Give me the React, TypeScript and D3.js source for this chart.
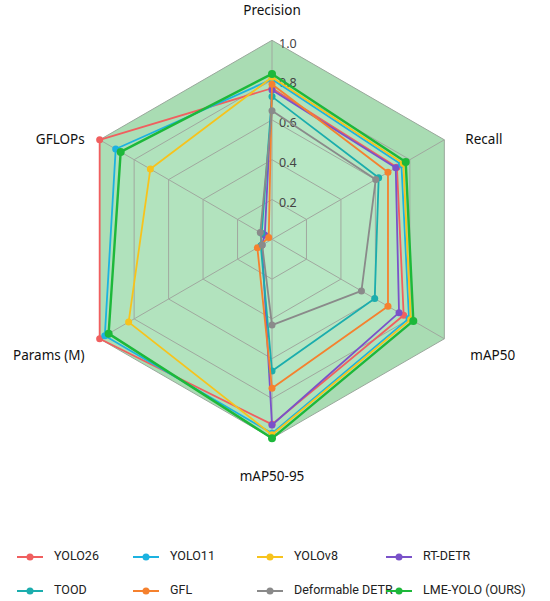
import React from 'react';
import * as d3 from 'd3';

const axes = ['Precision', 'Recall', 'mAP50', 'mAP50-95', 'Params (M)', 'GFLOPs'];
const ticks = [0.2, 0.4, 0.6, 0.8, 1.0];

const models = ['YOLO26', 'YOLO11', 'YOLOv8', 'RT-DETR', 'TOOD', 'GFL', 'Deformable DETR', 'LME-YOLO (OURS)'];
const colors = ['#f05f5f', '#1cb2e0', '#f7c31c', '#7a52c9', '#1badad', '#f5812e', '#8a8a8a', '#1db83a'];

const yolo26 = [0.759, 0.725, 0.764, 0.93, 1.0, 1.0];
const yolo11 = [0.804, 0.751, 0.795, 0.975, 0.97, 0.907];
const yolov8 = [0.814, 0.762, 0.805, 0.982, 0.832, 0.706];
const rtdetr = [0.75, 0.718, 0.737, 0.933, 0.058, 0.042];
const tood = [0.717, 0.619, 0.596, 0.662, 0.065, 0.06];
const gfl = [0.779, 0.673, 0.673, 0.749, 0.085, 0.019];
const deformable = [0.646, 0.602, 0.519, 0.431, 0.057, 0.068];
const lmeyolo = [0.831, 0.776, 0.82, 1.0, 0.948, 0.878];

const series = [yolo26, yolo11, yolov8, rtdetr, tood, gfl, deformable, lmeyolo];

const font = '"Noto Sans", "DejaVu Sans", sans-serif';
const legendFont = 'Roboto, "Noto Sans", sans-serif';

export default function App() {
  const width = 550;
  const height = 601;
  const cx = 272;
  const cy = 239.3;
  const R = 199;

  const r = d3.scaleLinear().domain([0, 1]).range([0, R]);
  const angle = d3.scaleLinear().domain([0, axes.length]).range([0, 2 * Math.PI]);

  const pt = (i: number, v: number): [number, number] => {
    const a = angle(i);
    return [cx + r(v) * Math.sin(a), cy - r(v) * Math.cos(a)];
  };

  const radarLine = d3
    .lineRadial<number>()
    .angle((_, i) => angle(i))
    .radius(v => r(v))
    .curve(d3.curveLinearClosed);

  const hex = (v: number) => radarLine(axes.map(() => v)) as string;

  return (
    <svg width={width} height={height} style={{ position: 'absolute', left: 0, top: 0 }}>
      <rect width={width} height={height} fill="#fff" />
      <g transform={`translate(${cx},${cy})`}>
        <path d={hex(1)} fill="#a9dcb3" stroke="#9aa89c" strokeWidth={1} />
        {series.map((s, k) => (
          <path key={'f' + k} d={radarLine(s) as string} fill="rgb(192,240,205)" fillOpacity={0.13} stroke="none" />
        ))}
        {ticks.slice(0, -1).map(t => (
          <path key={t} d={hex(t)} fill="none" stroke="#a0a89f" strokeWidth={1} />
        ))}
        {axes.map((a, i) => {
          const [x, y] = pt(i, 1);
          return <line key={a} x1={0} y1={0} x2={x - cx} y2={y - cy} stroke="#a0a89f" strokeWidth={1} />;
        })}
      </g>
      {ticks.map(t => (
        <text
          key={'t' + t}
          x={cx + 7}
          y={cy - r(t) + 4}
          fontFamily={font}
          fontSize={12.5}
          fill="#444"
          dominantBaseline="middle"
        >
          {t.toFixed(1)}
        </text>
      ))}
      <g transform={`translate(${cx},${cy})`}>
        {series.map((s, k) => (
          <g key={'s' + k}>
            <path
              d={radarLine(s) as string}
              fill="none"
              stroke={colors[k]}
              strokeWidth={k === 7 ? 2.4 : 1.8}
              strokeLinejoin="round"
            />
            {s.map((v, i) => {
              const [x, y] = pt(i, v);
              return <circle key={i} cx={x - cx} cy={y - cy} r={k === 7 ? 4 : 3.5} fill={colors[k]} />;
            })}
          </g>
        ))}
      </g>
      {axes.map((a, i) => {
        const ang = angle(i);
        const s = Math.sin(ang);
        const c = Math.cos(ang);
        const [vx, vy] = pt(i, 1);
        let x = vx;
        let y = vy;
        let anchor = 'middle';
        if (Math.abs(s) < 0.1) {
          y = c > 0 ? vy - 29 : vy + 39;
        } else if (s > 0) {
          anchor = 'start';
          x = vx + (c > 0 ? 21 : 26);
          y = vy + (c > 0 ? 1 : 18);
        } else {
          anchor = 'end';
          x = vx - 15;
          y = vy + (c > 0 ? 1 : 18);
        }
        return (
          <text
            key={'l' + a}
            x={x}
            y={y}
            textAnchor={anchor}
            dominantBaseline="middle"
            fontFamily={font}
            fontSize={13.5}
            fill="#111"
          >
            {a}
          </text>
        );
      })}
      {models.map((m, k) => {
        const colX = [17, 133, 257, 386][k % 4];
        const rowY = [557, 591][Math.floor(k / 4)];
        return (
          <g key={'g' + m} transform={`translate(${colX},${rowY})`}>
            <line x1={0} x2={26} y1={0} y2={0} stroke={colors[k]} strokeWidth={2} />
            <circle cx={13} cy={0} r={3.5} fill={colors[k]} />
            <text x={37} y={0} dominantBaseline="middle" fontFamily={legendFont} fontSize={12.5} fill="#222">
              {m}
            </text>
          </g>
        );
      })}
    </svg>
  );
}
